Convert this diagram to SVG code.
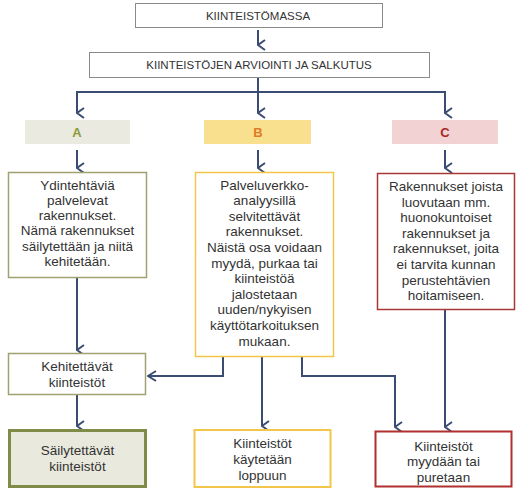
<svg xmlns="http://www.w3.org/2000/svg" width="526" height="492" viewBox="0 0 526 492">
<style>
text{font-family:"Liberation Sans",Arial,sans-serif;fill:#333;text-anchor:middle}
.t{font-size:13.5px}
.h{font-size:11.5px}
.lbl{font-size:13px;font-weight:bold}
.c{fill:none;stroke:#3B4C72;stroke-width:2}
</style>
<defs>
<marker id="ah" viewBox="0 0 12 10" refX="6" refY="9" markerWidth="12" markerHeight="10" markerUnits="userSpaceOnUse" orient="auto-start-reverse">
<path d="M1,2 L6,9 L11,2" fill="none" stroke="#3B4C72" stroke-width="2"/>
</marker>
<marker id="ahl" viewBox="0 0 10 12" refX="1" refY="6" markerWidth="10" markerHeight="12" markerUnits="userSpaceOnUse" orient="0">
<path d="M9,1 L1,6 L9,11" fill="none" stroke="#3B4C72" stroke-width="2"/>
</marker>
</defs>
<rect width="526" height="492" fill="#fff"/>
<g id="connectors">
<path class="c" d="M258,30 V45" marker-end="url(#ah)"/>
<path class="c" d="M258,77 V92 M77,92 H445"/>
<path class="c" d="M77,91 V113" marker-end="url(#ah)"/>
<path class="c" d="M258,92 V113" marker-end="url(#ah)"/>
<path class="c" d="M445,91 V113" marker-end="url(#ah)"/>
<path class="c" d="M77,150 V168" marker-end="url(#ah)"/>
<path class="c" d="M258,150 V168" marker-end="url(#ah)"/>
<path class="c" d="M445,150 V168" marker-end="url(#ah)"/>
<path class="c" d="M77,277 V350" marker-end="url(#ah)"/>
<path class="c" d="M77,394 V426" marker-end="url(#ah)"/>
<path class="c" d="M223,356 V376 H148" marker-end="url(#ahl)"/>
<path class="c" d="M262,356 V426" marker-end="url(#ah)"/>
<path class="c" d="M302,356 V376 H395 V427" marker-end="url(#ah)"/>
<path class="c" d="M445,310 V427" marker-end="url(#ah)"/>
</g>
<g id="kiinteistomassa">
<rect x="135.5" y="3.5" width="247" height="24" fill="#fff" stroke="#8a8a8a" stroke-width="1"/>
<text class="h" x="258" y="19.5">KIINTEISTÖMASSA</text>
</g>
<g id="arviointi">
<rect x="89.5" y="52.5" width="340" height="25" fill="#fff" stroke="#8a8a8a" stroke-width="1"/>
<text class="h" x="259" y="69">KIINTEISTÖJEN ARVIOINTI JA SALKUTUS</text>
</g>
<g id="labelA">
<rect x="25" y="120" width="105" height="24" fill="#EAEAE0"/>
<text class="lbl" x="77" y="137" style="fill:#8A9A3A">A</text>
</g>
<g id="labelB">
<rect x="204" y="120" width="107" height="24" fill="#F9E08E"/>
<text class="lbl" x="258" y="137" style="fill:#E07A25">B</text>
</g>
<g id="labelC">
<rect x="392" y="120" width="106" height="24" fill="#F2D2D2"/>
<text class="lbl" x="445" y="137" style="fill:#A82828">C</text>
</g>
<g id="boxA">
<rect x="8.5" y="172.5" width="138" height="105" fill="#fff" stroke="#A0A070" stroke-width="1.5"/>
<text class="t" x="77.5" y="189.5">Ydintehtäviä</text>
<text class="t" x="77.5" y="204.8">palvelevat</text>
<text class="t" x="77.5" y="220.1">rakennukset.</text>
<text class="t" x="77.5" y="235.4">Nämä rakennukset</text>
<text class="t" x="77.5" y="250.7">säilytettään ja niitä</text>
<text class="t" x="77.5" y="266">kehitetään.</text>
</g>
<g id="boxB">
<rect x="195.5" y="172.5" width="138" height="184" fill="#fff" stroke="#F2C64A" stroke-width="1.5"/>
<text class="t" x="264.5" y="189.5">Palveluverkko-</text>
<text class="t" x="264.5" y="205.1">analyysillä</text>
<text class="t" x="264.5" y="220.7">selvitettävät</text>
<text class="t" x="264.5" y="236.3">rakennukset.</text>
<text class="t" x="264.5" y="251.9">Näistä osa voidaan</text>
<text class="t" x="264.5" y="267.5">myydä, purkaa tai</text>
<text class="t" x="264.5" y="283.1">kiinteistöä</text>
<text class="t" x="264.5" y="298.7">jalostetaan</text>
<text class="t" x="264.5" y="314.3">uuden/nykyisen</text>
<text class="t" x="264.5" y="329.9">käyttötarkoituksen</text>
<text class="t" x="264.5" y="345.5">mukaan.</text>
</g>
<g id="boxC">
<rect x="377.5" y="173.5" width="137" height="136" fill="#fff" stroke="#A83838" stroke-width="1.5"/>
<text class="t" x="446" y="191">Rakennukset joista</text>
<text class="t" x="446" y="206.6">luovutaan mm.</text>
<text class="t" x="446" y="222.2">huonokuntoiset</text>
<text class="t" x="446" y="237.8">rakennukset ja</text>
<text class="t" x="446" y="253.4">rakennukset, joita</text>
<text class="t" x="446" y="269">ei tarvita kunnan</text>
<text class="t" x="446" y="284.6">perustehtävien</text>
<text class="t" x="446" y="300.2">hoitamiseen.</text>
</g>
<g id="kehitettavat">
<rect x="8.5" y="353.5" width="137" height="41" fill="#fff" stroke="#A0A070" stroke-width="1.5"/>
<text class="t" x="77" y="370.5">Kehitettävät</text>
<text class="t" x="77" y="387">kiinteistöt</text>
</g>
<g id="sailytettavat">
<rect x="9.5" y="430.5" width="136" height="56" fill="#E9E9DD" stroke="#7E8C48" stroke-width="3"/>
<text class="t" x="77.5" y="454.5">Säilytettävät</text>
<text class="t" x="77.5" y="470.5">kiinteistöt</text>
</g>
<g id="kaytetaan">
<rect x="194.5" y="430" width="136" height="57" fill="#fff" stroke="#F2C64A" stroke-width="2"/>
<text class="t" x="262.5" y="447.5">Kiinteistöt</text>
<text class="t" x="262.5" y="463.5">käytetään</text>
<text class="t" x="262.5" y="480">loppuun</text>
</g>
<g id="myydaan">
<rect x="375.5" y="431.5" width="136" height="55" fill="#fff" stroke="#B03030" stroke-width="2"/>
<text class="t" x="443.5" y="450.5">Kiinteistöt</text>
<text class="t" x="443.5" y="466">myydään tai</text>
<text class="t" x="443.5" y="481.5">puretaan</text>
</g>
</svg>
